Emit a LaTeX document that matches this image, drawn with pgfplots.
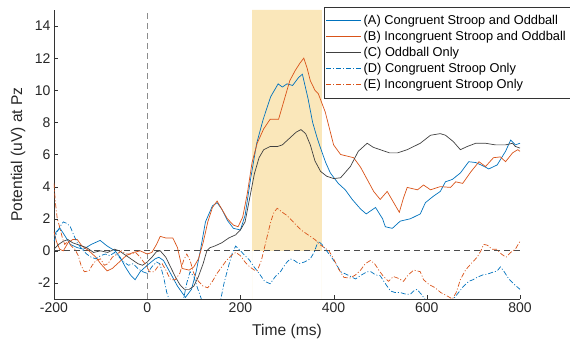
\documentclass[border=0pt]{standalone}
\usepackage{pgfplots}
\pgfplotsset{compat=1.18}
\usepackage{fontspec}
\setmainfont{Liberation Sans}
\definecolor{cA}{rgb}{0,0.447,0.741}
\definecolor{cB}{rgb}{0.85,0.325,0.098}
\definecolor{cC}{rgb}{0.25,0.25,0.25}
\definecolor{shade}{RGB}{250,231,186}
\begin{document}
\begin{tikzpicture}
\begin{axis}[name=ax,
  scale only axis, width=466pt, height=289pt,
  xmin=-200, xmax=800, ymin=-3, ymax=15,
  xtick={-200,0,200,400,600,800}, ytick={-2,0,2,4,6,8,10,12,14},
  axis x line*=bottom, axis y line*=left,
  axis line style={-, black!80},
  tick align=inside, major tick length=4pt, tick style={black!80},
  /pgf/number format/assume math mode=true,
  ticklabel style={font=\fontsize{14}{16}\selectfont, text=black!85},
  xlabel={Time (ms)}, ylabel={Potential (uV) at Pz},
  label style={font=\fontsize{15.6}{18}\selectfont, text=black!85},
  xlabel style={at={(axis description cs:0.5,-0.114)}, anchor=center},
  ylabel style={at={(axis description cs:-0.0773,0.5)}, anchor=center},
  legend style={at={(0.579,1.01)}, anchor=north west, font=\fontsize{12.8}{15}\selectfont,
    draw=black!80, fill=white, inner xsep=2pt, inner ysep=5.5pt, nodes={inner xsep=2pt, inner ysep=2.6pt}},
  legend cell align=left,
  legend image code/.code={\draw[#1] (0pt,0pt) -- (35pt,0pt);},
  clip=true,
]
\addplot[fill=shade, draw=none, forget plot] coordinates {(225,-3) (225,15) (375,15) (375,-3)} \closedcycle;
\addplot[black!45, line width=0.7pt, dash pattern=on 6pt off 4pt, forget plot] coordinates {(0,-3) (0,15)};
\addplot[black!70, line width=0.7pt, dash pattern=on 6pt off 4pt, forget plot] coordinates {(-200,0) (800,0)};

% A Congruent Stroop and Oddball
\addplot[cA, line width=0.7pt] table {
-200 0.9
-195 1.2
-187 1.4
-178 1.0
-165 0.4
-150 0.2
-137 0.1
-120 0.4
-101 0.65
-86 0.3
-69 0.0
-58 -0.4
-47 -1.0
-36 -1.5
-26 -1.8
-15 -1.3
0 -0.9
17 -0.5
25 -0.4
35 -0.6
50 -1.4
65 -2.2
82 -2.9
95 -2.4
105 -1.3
114 0.0
125 1.8
140 2.8
150 3.0
160 2.6
172 1.9
185 1.4
200 1.3
210 2.2
222 4.5
235 6.7
249 8.2
265 9.6
281 10.4
290 10.2
300 10.4
312 10.3
325 10.8
333 11.0
345 9.5
355 8.0
365 7.0
372 6.4
383 5.5
393 4.85
410 4.2
425 3.8
440 3.2
458 2.6
470 2.3
480 2.5
490 2.7
505 2.0
511 1.5
526 1.4
543 1.85
565 2.0
586 2.3
597 3.0
614 3.4
629 3.7
640 4.3
655 4.45
672 4.85
690 5.55
705 5.5
720 5.3
733 5.1
751 5.35
769 6.2
780 6.9
790 6.6
800 6.7
};
\addlegendentry{(A) Congruent Stroop and Oddball}

% B Incongruent Stroop and Oddball
\addplot[cB, line width=0.7pt] table {
-200 1.2
-195 0.6
-188 0.1
-180 0.0
-170 0.5
-160 0.7
-150 0.7
-140 0.3
-125 0.0
-110 -0.4
-100 -0.8
-86 -1.25
-75 -1.1
-60 -0.7
-45 -0.3
-30 -0.1
-15 0.0
0 -0.2
10 -0.1
20 0.4
28 0.9
40 0.8
55 0.8
65 0.2
75 -1.1
90 -1.2
100 -1.0
110 -0.5
120 0.5
130 1.8
140 2.7
150 3.1
160 2.6
172 2.0
185 1.6
195 1.5
205 2.1
215 3.6
225 5.5
236 6.7
250 7.6
264 8.2
282 8.2
296 9.6
306 10.6
318 11.25
328 11.7
336 12.0
343 11.4
350 10.6
360 10.0
367 9.8
382 8.65
400 6.6
415 6.0
443 5.8
458 5.2
472 4.45
486 3.7
500 3.2
515 3.7
529 3.0
541 2.4
550 3.3
558 3.95
580 3.8
593 4.1
608 3.8
629 4.0
651 3.95
662 4.3
677 4.2
694 4.9
712 5.55
726 5.25
743 5.8
758 5.85
769 5.55
784 6.1
795 6.3
800 6.2
};
\addlegendentry{(B) Incongruent Stroop and Oddball}

% C Oddball Only
\addplot[cC, line width=0.7pt] table {
-200 0.1
-190 0.4
-180 0.6
-170 0.7
-160 0.5
-150 0.4
-140 0.3
-130 0.2
-115 -0.1
-100 0.0
-85 -0.1
-70 0.1
-60 0.0
-50 -0.2
-35 -0.5
-20 -0.8
-10 -0.9
0 -0.7
10 -0.4
20 -0.05
28 0.0
40 -0.4
50 -1.0
60 -1.6
70 -2.1
80 -2.4
90 -2.4
100 -2.2
110 -1.6
120 -0.8
128 0.0
135 0.2
145 0.3
160 0.5
175 0.8
190 1.0
200 1.3
210 1.8
220 3.3
230 4.8
240 5.8
250 6.3
264 6.5
280 6.5
290 6.6
305 7.0
320 7.4
330 7.55
340 7.3
350 6.6
360 5.6
372 4.95
385 4.65
400 4.5
415 4.55
436 5.25
453 6.2
472 6.7
485 6.45
500 6.3
520 6.1
537 6.1
558 6.3
586 6.7
608 7.2
629 7.3
640 7.2
657 6.8
672 6.3
687 6.5
705 6.7
726 6.7
747 6.6
769 6.6
784 6.7
790 6.5
800 6.4
};
\addlegendentry{(C) Oddball Only}

% D Congruent Stroop Only
\addplot[cA, line width=0.7pt, dash pattern=on 5pt off 2pt on 1pt off 2pt] table {
-200 0.6
-193 1.2
-185 1.6
-180 1.8
-172 1.7
-165 1.5
-158 1.0
-150 0.5
-140 0.1
-130 -0.2
-120 -0.4
-110 -0.5
-100 -0.3
-90 -0.2
-80 -0.3
-70 -0.1
-60 -0.4
-50 -0.7
-40 -0.9
-30 -0.8
-20 -1.1
-10 -1.3
0 -1.4
10 -1.0
20 -0.7
27 -0.8
35 -1.6
42 -2.6
50 -3.3
60 -3.6
70 -3.5
78 -3.0
85 -2.0
92 -1.3
100 -1.6
110 -2.5
120 -3.3
135 -3.8
150 -3.6
158 -3.0
165 -2.0
175 -0.9
183 -0.1
190 0.3
200 0.0
210 -0.3
220 -0.6
228 -0.95
240 -1.4
252 -1.9
264 -2.05
275 -1.6
286 -1.3
297 -0.8
307 -0.5
316 -0.6
325 -0.8
337 -0.7
350 -0.5
358 -0.1
367 0.6
375 0.4
385 0.0
393 -0.3
405 -0.8
415 -1.3
430 -1.5
447 -1.75
460 -1.5
472 -1.3
480 -1.3
490 -1.5
500 -1.55
510 -2.0
522 -2.5
532 -2.6
543 -2.6
555 -2.7
565 -2.7
572 -2.5
579 -2.4
588 -2.7
601 -3.2
620 -3.6
640 -3.4
657 -3.0
668 -2.6
679 -2.2
690 -1.9
699 -1.8
708 -1.65
720 -1.5
730 -1.45
740 -1.35
751 -1.25
758 -1.0
766 -1.3
776 -1.75
788 -2.1
800 -2.4
};
\addlegendentry{(D) Congruent Stroop Only}

% E Incongruent Stroop Only
\addplot[cB, line width=0.7pt, dash pattern=on 5pt off 2pt on 1pt off 2pt] table {
-200 4.2
-197 3.0
-193 2.0
-188 1.5
-182 0.8
-177 0.4
-170 0.6
-163 0.3
-155 0.1
-148 -0.3
-142 -0.9
-135 -1.3
-125 -1.25
-118 -0.9
-110 -0.6
-100 -0.5
-92 -0.9
-84 -0.8
-75 -0.4
-65 -0.2
-55 0.0
-45 -0.2
-35 -0.2
-25 -0.1
-15 -0.4
-5 -0.8
5 -1.3
15 -1.3
25 -0.9
32 -0.8
40 -1.2
50 -1.8
60 -1.8
70 -1.4
78 -0.6
85 -0.2
92 -0.6
100 -1.4
110 -1.9
120 -2.2
130 -2.3
140 -1.9
150 -1.4
160 -1.0
170 -0.6
180 -0.3
190 -0.1
200 -0.3
210 -0.7
220 -1.0
230 -1.2
236 -1.25
245 -0.6
255 0.6
265 1.8
272 2.4
279 2.65
290 2.4
300 2.2
310 1.9
320 1.6
330 1.3
340 1.1
350 0.9
360 0.7
370 0.4
380 0.2
390 0.0
400 -0.5
410 -1.1
422 -1.65
435 -1.7
447 -1.5
458 -1.2
468 -0.8
479 -0.6
488 -0.8
497 -1.2
507 -1.6
518 -1.9
528 -1.6
538 -1.7
550 -1.9
560 -1.5
572 -1.2
586 -1.3
593 -1.8
605 -2.1
618 -2.3
630 -2.6
643 -2.8
655 -3.0
663 -2.6
672 -1.8
683 -1.2
695 -0.8
708 -0.4
716 0.0
722 0.4
730 0.35
740 0.1
750 0.1
760 -0.2
770 -0.4
780 -0.1
790 0.1
800 0.6
};
\addlegendentry{(E) Incongruent Stroop Only}
\end{axis}
\pgfresetboundingbox
\path[use as bounding box] ([xshift=-54pt,yshift=-48pt]ax.south west) rectangle ([xshift=516pt,yshift=299pt]ax.south west);
\end{tikzpicture}
\end{document}
